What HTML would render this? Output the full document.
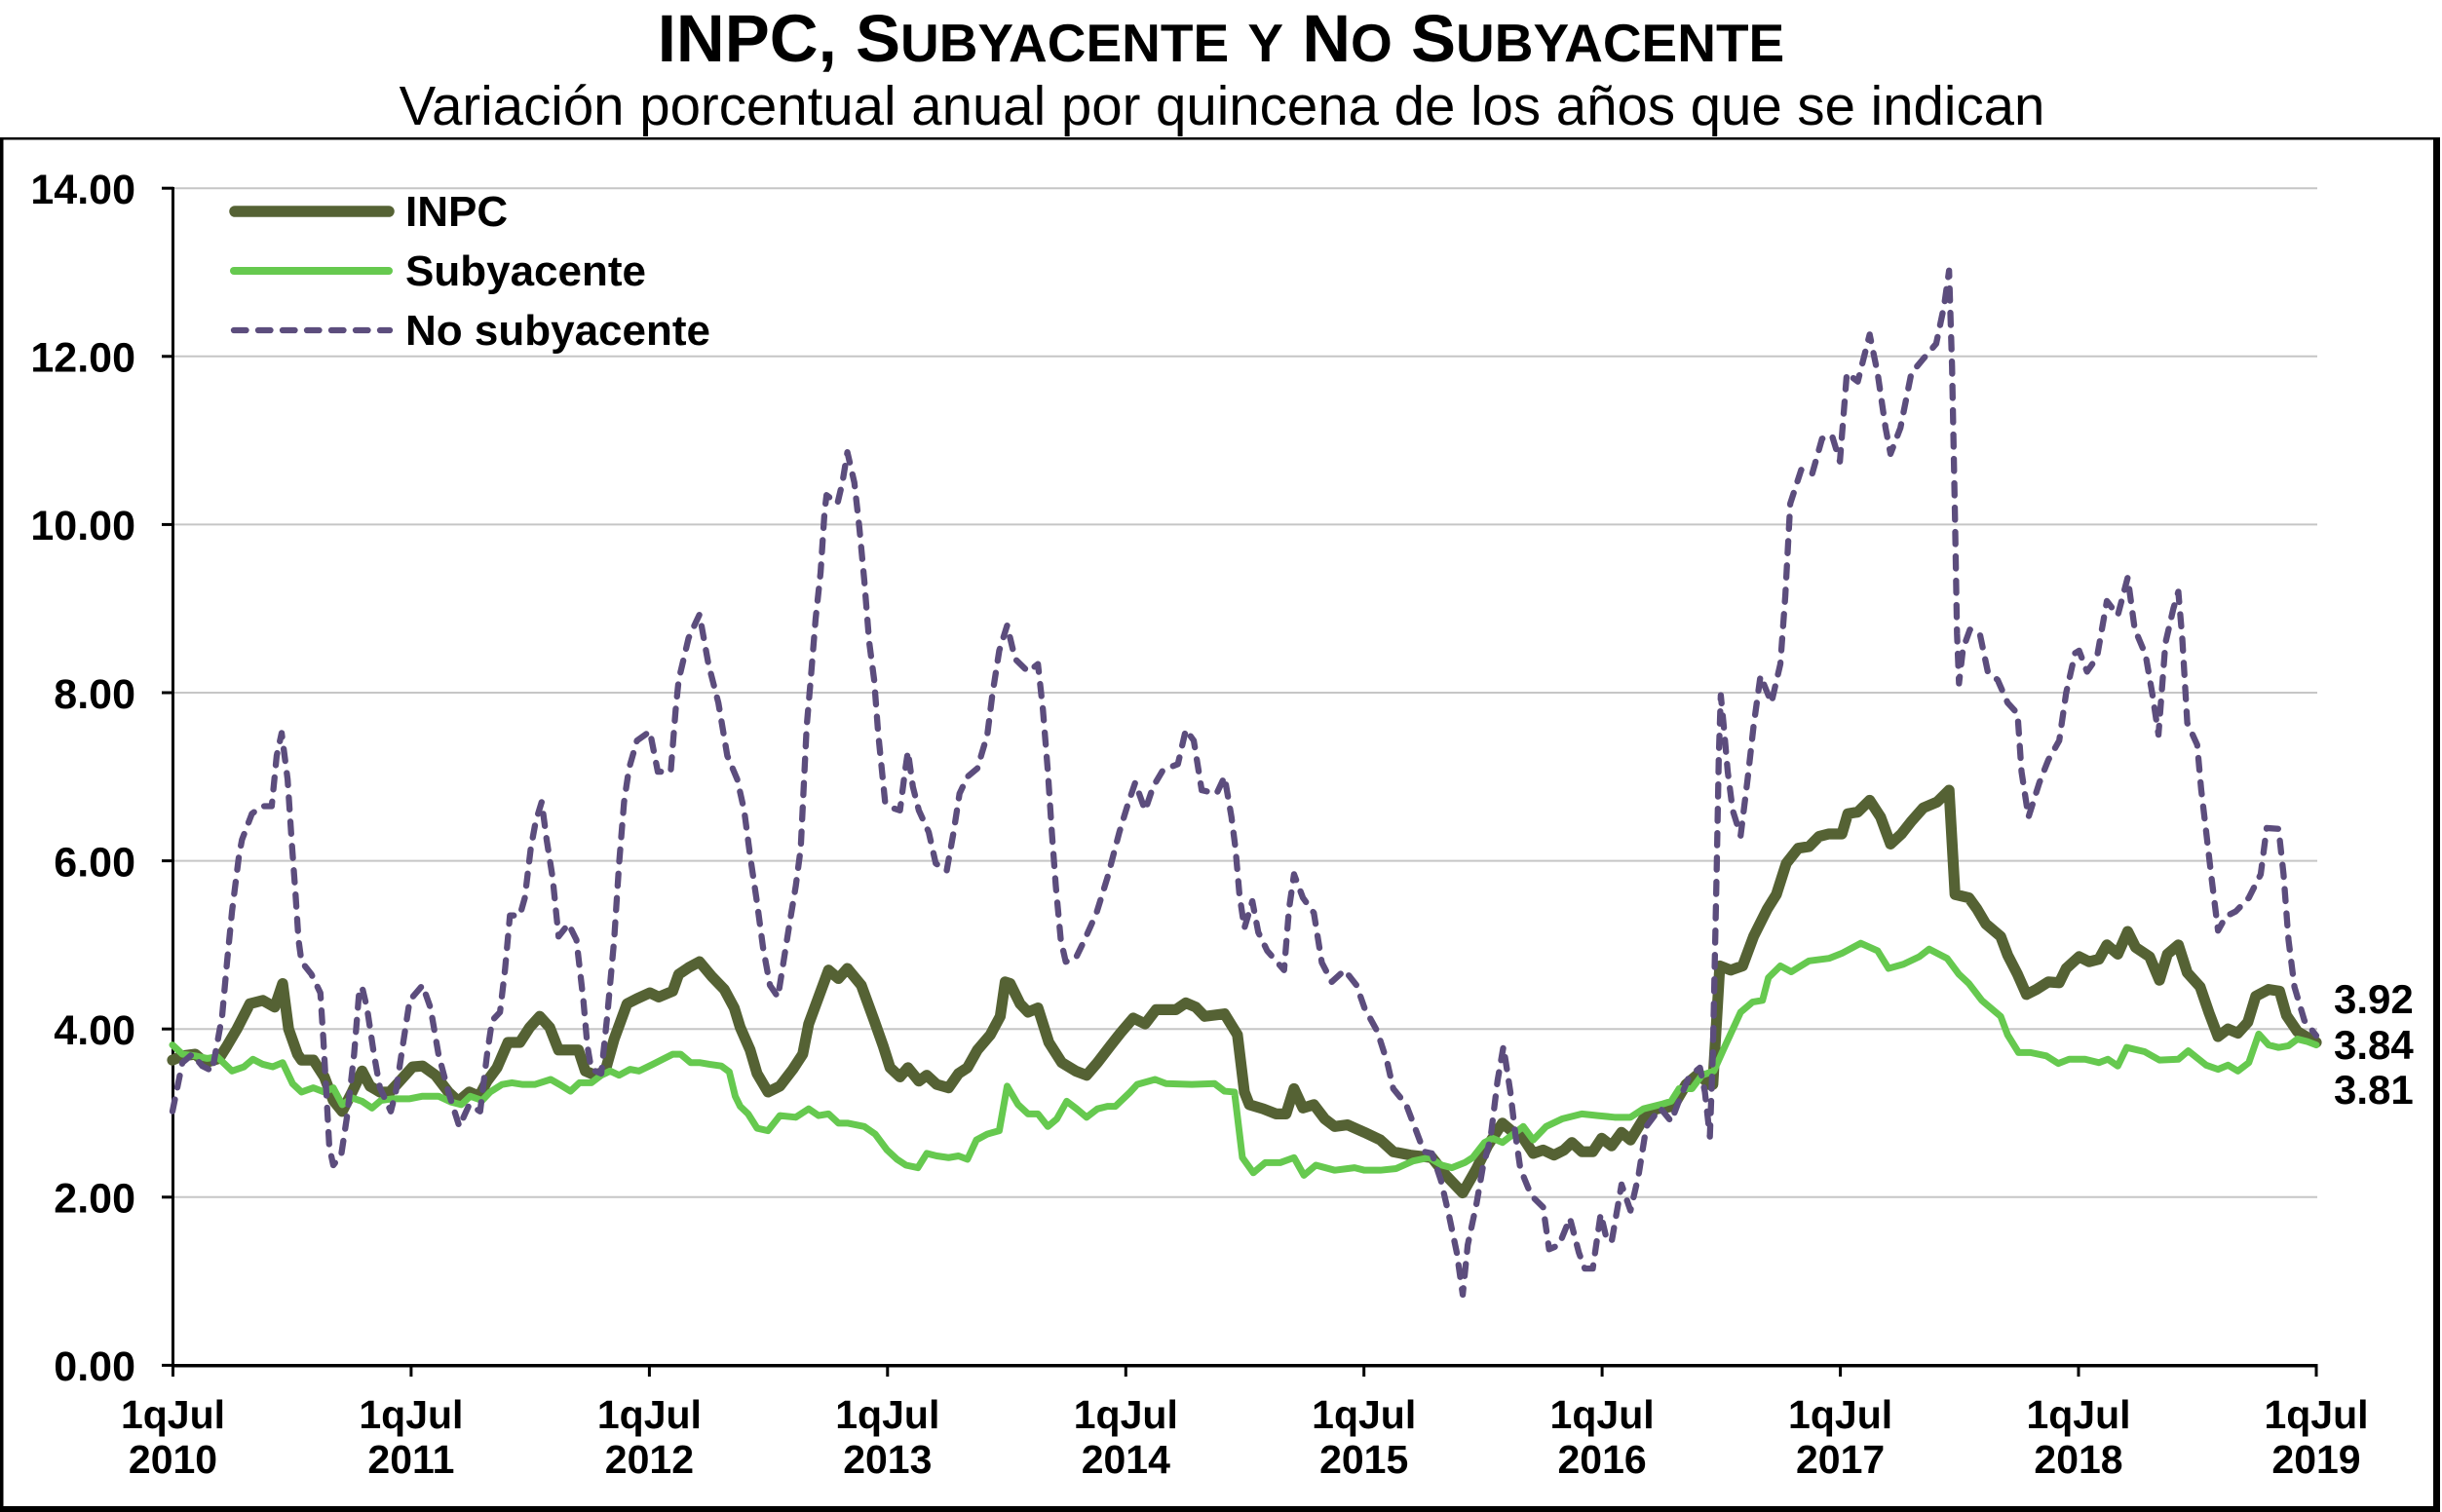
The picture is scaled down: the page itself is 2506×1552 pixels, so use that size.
<!DOCTYPE html>
<html><head><meta charset="utf-8">
<style>
html,body{margin:0;padding:0;background:#fff;}
body{width:2506px;height:1552px;overflow:hidden;}
svg{display:block;}
text{font-family:"Liberation Sans",Arial,sans-serif;fill:#000;}
.b{font-weight:bold;}
</style></head>
<body>
<svg width="2506" height="1552" viewBox="0 0 2506 1552" xmlns="http://www.w3.org/2000/svg">
<rect x="0" y="0" width="2506" height="1552" fill="#fff"/>
<!-- Title -->
<text x="1253" y="63" text-anchor="middle" class="b" font-size="69">INPC, S<tspan font-size="55">UBYACENTE</tspan> <tspan font-size="55">Y</tspan> N<tspan font-size="55">O</tspan> S<tspan font-size="55">UBYACENTE</tspan></text>
<text x="1254" y="128" text-anchor="middle" font-size="56.4">Variación porcentual anual por quincena de los años que se indican</text>

<!-- Frame -->
<rect x="0" y="141" width="2504" height="2.5" fill="#000"/>
<rect x="0" y="141" width="3.5" height="1411" fill="#000"/>
<rect x="2497" y="141" width="7" height="1411" fill="#000"/>
<rect x="0" y="1546" width="2504" height="6" fill="#000"/>

<!-- Gridlines -->
<g stroke="#c6c6c6" stroke-width="2">
<line x1="177" y1="193.2" x2="2378" y2="193.2"/>
<line x1="177" y1="365.8" x2="2378" y2="365.8"/>
<line x1="177" y1="538.4" x2="2378" y2="538.4"/>
<line x1="177" y1="711.0" x2="2378" y2="711.0"/>
<line x1="177" y1="883.6" x2="2378" y2="883.6"/>
<line x1="177" y1="1056.2" x2="2378" y2="1056.2"/>
<line x1="177" y1="1228.8" x2="2378" y2="1228.8"/>
</g>

<!-- Y axis -->
<g stroke="#000" stroke-width="3">
<line x1="177.5" y1="192" x2="177.5" y2="1402"/>
<line x1="166" y1="193.2" x2="178" y2="193.2"/>
<line x1="166" y1="365.8" x2="178" y2="365.8"/>
<line x1="166" y1="538.4" x2="178" y2="538.4"/>
<line x1="166" y1="711.0" x2="178" y2="711.0"/>
<line x1="166" y1="883.6" x2="178" y2="883.6"/>
<line x1="166" y1="1056.2" x2="178" y2="1056.2"/>
<line x1="166" y1="1228.8" x2="178" y2="1228.8"/>
<line x1="166" y1="1401.4" x2="178" y2="1401.4"/>
</g>
<g class="b" font-size="43" text-anchor="end">
<text x="139" y="209">14.00</text>
<text x="139" y="381.6">12.00</text>
<text x="139" y="554.2">10.00</text>
<text x="139" y="726.8">8.00</text>
<text x="139" y="899.4">6.00</text>
<text x="139" y="1072">4.00</text>
<text x="139" y="1244.6">2.00</text>
<text x="139" y="1417.2">0.00</text>
</g>

<!-- X axis -->
<g stroke="#000" stroke-width="3">
<line x1="176" y1="1401.8" x2="2378.5" y2="1401.8" stroke-width="3.5"/>
<line x1="177.5" y1="1401" x2="177.5" y2="1413"/>
<line x1="421.9" y1="1401" x2="421.9" y2="1413"/>
<line x1="666.4" y1="1401" x2="666.4" y2="1413"/>
<line x1="910.8" y1="1401" x2="910.8" y2="1413"/>
<line x1="1155.3" y1="1401" x2="1155.3" y2="1413"/>
<line x1="1399.7" y1="1401" x2="1399.7" y2="1413"/>
<line x1="1644.1" y1="1401" x2="1644.1" y2="1413"/>
<line x1="1888.6" y1="1401" x2="1888.6" y2="1413"/>
<line x1="2133" y1="1401" x2="2133" y2="1413"/>
<line x1="2377" y1="1401" x2="2377" y2="1413"/>
</g>
<g class="b" font-size="41" text-anchor="middle">
<text x="177.5" y="1466">1qJul</text><text x="177.5" y="1512">2010</text>
<text x="421.9" y="1466">1qJul</text><text x="421.9" y="1512">2011</text>
<text x="666.4" y="1466">1qJul</text><text x="666.4" y="1512">2012</text>
<text x="910.8" y="1466">1qJul</text><text x="910.8" y="1512">2013</text>
<text x="1155.3" y="1466">1qJul</text><text x="1155.3" y="1512">2014</text>
<text x="1399.7" y="1466">1qJul</text><text x="1399.7" y="1512">2015</text>
<text x="1644.1" y="1466">1qJul</text><text x="1644.1" y="1512">2016</text>
<text x="1888.6" y="1466">1qJul</text><text x="1888.6" y="1512">2017</text>
<text x="2133" y="1466">1qJul</text><text x="2133" y="1512">2018</text>
<text x="2377" y="1466">1qJul</text><text x="2377" y="1512">2019</text>
</g>

<!-- Series -->
<g transform="translate(177,1401.4) scale(10.18519,-86.3)" fill="none" stroke-linejoin="round">
<polyline vector-effect="non-scaling-stroke" stroke="#556234" stroke-width="11.2" stroke-linecap="round" points="0,3.63 1,3.68 2.3,3.7 3.3,3.6 4.7,3.65 5.5,3.8 6.5,4.0 7.8,4.3 9.1,4.34 10.3,4.26 11.1,4.54 11.7,4.0 12.6,3.7 13,3.63 14.2,3.63 15.3,3.43 16.2,3.15 17.1,3.02 18.1,3.25 19.1,3.5 19.9,3.32 20.9,3.25 21.9,3.25 22.9,3.38 24.2,3.55 25.2,3.56 26.5,3.45 27.8,3.25 28.8,3.14 29.9,3.25 30.9,3.2 31.7,3.38 32.7,3.54 33.8,3.84 35,3.84 36,4.02 37,4.15 38,4.02 38.9,3.75 40.9,3.75 41.6,3.5 42.6,3.45 43.6,3.5 44.5,3.88 45.8,4.3 46.8,4.36 48.1,4.43 49,4.38 50.4,4.45 51,4.65 52,4.73 53.1,4.8 54.3,4.63 55.6,4.47 56.6,4.25 57.2,4.02 58.2,3.75 58.9,3.47 60,3.25 61.2,3.32 62.5,3.52 63.5,3.7 64.1,4.06 65.1,4.38 66.1,4.7 67.1,4.6 68,4.72 69.4,4.52 70.7,4.1 71.6,3.8 72.3,3.54 73.3,3.43 74.1,3.54 75.2,3.38 76,3.45 77,3.34 78.2,3.3 79.2,3.47 80.1,3.54 81.1,3.75 82.4,3.93 83.4,4.15 83.9,4.56 84.4,4.54 85.4,4.3 86.2,4.2 87.2,4.25 88.3,3.84 89.6,3.6 91,3.5 92.1,3.45 93.2,3.6 94.5,3.8 95.5,3.95 96.8,4.13 98,4.06 99.1,4.23 101.1,4.23 102.1,4.31 103.1,4.26 104,4.15 106,4.18 107.3,3.93 108,3.25 108.5,3.1 109.9,3.05 111.2,2.99 112.2,2.99 113,3.29 113.9,3.06 115,3.1 116.1,2.93 117.1,2.84 118.4,2.86 120.1,2.77 121.7,2.68 123,2.54 124.7,2.5 126.9,2.47 128.3,2.26 130,2.05 131.4,2.34 132.5,2.61 134,2.88 135.1,2.77 136.1,2.7 137.1,2.52 138.1,2.56 139.2,2.5 140.2,2.56 141,2.65 142,2.54 143.1,2.54 144,2.7 145,2.61 146,2.77 146.9,2.68 148.2,2.93 149.5,3.05 151.2,3.08 152.5,3.34 153.8,3.47 154.8,3.34 155.2,3.34 155.9,4.75 157,4.7 158.2,4.75 159.3,5.1 160.7,5.43 161.6,5.6 162.6,5.97 163.8,6.15 164.9,6.17 165.9,6.29 166.9,6.32 168.2,6.32 168.8,6.56 169.8,6.58 171,6.72 172.1,6.52 173.1,6.2 174.2,6.32 175.2,6.47 176.4,6.63 177.8,6.7 179,6.84 179.6,5.6 181,5.56 181.8,5.43 182.7,5.25 184.2,5.1 184.9,4.88 185.9,4.65 186.8,4.41 187.8,4.47 189,4.56 190.1,4.55 190.8,4.72 192.1,4.86 193.1,4.8 194.1,4.83 194.9,5.0 196,4.89 197,5.16 197.8,4.97 199.2,4.86 200.2,4.58 201,4.89 202.1,5.0 203,4.67 204.3,4.5 205.2,4.19 206.1,3.91 207.1,4.0 208.1,3.95 209.1,4.08 209.9,4.39 211.2,4.47 212.3,4.45 213,4.16 214.1,3.97 215.1,3.9 216,3.84"/>
<polyline vector-effect="non-scaling-stroke" stroke="#66c94f" stroke-width="7" stroke-linecap="round" points="0,3.81 1,3.7 2.3,3.68 3.5,3.65 4.5,3.67 6,3.5 7.2,3.55 8.1,3.64 9.1,3.58 10.1,3.55 11.1,3.6 12.1,3.35 13,3.25 14.2,3.3 15.3,3.25 16.2,3.3 17.1,3.1 18.1,3.18 19.1,3.14 20.1,3.06 21,3.15 22.2,3.17 23.9,3.17 25.2,3.2 26.8,3.2 28.1,3.13 29.1,3.1 30,3.2 31.2,3.15 32,3.25 33.2,3.34 34.2,3.36 35.3,3.34 36.5,3.34 38.1,3.4 39,3.34 40.1,3.26 41,3.36 42.2,3.36 43.2,3.45 44.1,3.5 45,3.45 46.1,3.52 47,3.5 48.4,3.58 49.4,3.64 50.4,3.7 51.2,3.7 52.2,3.6 53.1,3.6 54.1,3.58 55.3,3.56 56.1,3.49 56.7,3.2 57.2,3.08 58,2.99 58.9,2.82 60,2.79 61.2,2.97 62.8,2.95 64.1,3.05 65.1,2.97 66.1,2.99 67.1,2.88 68,2.88 69.7,2.84 70.8,2.75 72,2.56 73,2.45 73.9,2.38 75.1,2.35 76,2.52 77,2.49 78.2,2.47 79.2,2.49 80.1,2.45 81,2.68 82.1,2.75 83.3,2.79 84.1,3.32 85.2,3.1 86.2,2.99 87.2,2.99 88.2,2.84 89.1,2.93 90.1,3.14 91.1,3.05 92.1,2.95 93.2,3.05 94.2,3.08 95,3.08 96.5,3.25 97.2,3.34 99,3.4 100.1,3.35 102.7,3.34 105,3.35 106,3.26 107,3.25 107.8,2.47 108.9,2.29 110.1,2.41 111.6,2.41 113,2.47 114,2.26 115.2,2.38 117.1,2.32 119.1,2.35 120.1,2.32 121.7,2.32 123.3,2.34 125,2.43 126.6,2.47 127.9,2.38 128.9,2.35 130.2,2.41 131,2.47 132.2,2.65 133,2.7 134,2.65 135.1,2.75 136.1,2.84 137.1,2.68 138.4,2.84 140,2.93 142,2.99 143.6,2.97 145.3,2.95 146.9,2.95 148.2,3.05 150.2,3.11 151,3.14 151.8,3.29 153.1,3.29 154.1,3.45 155.3,3.5 156.4,3.79 158,4.2 159.2,4.32 160.2,4.34 160.8,4.61 162,4.75 163.1,4.68 164.9,4.81 166.9,4.84 168.2,4.9 170.1,5.02 171.8,4.93 172.9,4.72 174.4,4.77 176,4.86 177,4.95 178.8,4.84 180,4.65 181,4.54 182.3,4.34 184.2,4.15 184.9,3.93 186,3.72 187.2,3.72 188.8,3.68 190,3.59 191.1,3.64 192.7,3.64 194.1,3.6 195,3.64 196,3.56 196.9,3.78 198.7,3.73 200.2,3.63 202.1,3.64 203.1,3.74 204.9,3.57 206.1,3.52 207.1,3.57 208.1,3.5 209.2,3.6 210.2,3.94 211.2,3.81 212.2,3.78 213.2,3.8 214.1,3.88 215.1,3.85 216,3.81"/>
<polyline vector-effect="non-scaling-stroke" stroke="#5c4d7d" stroke-width="6.3" stroke-linecap="round" stroke-dasharray="12.5 12.5" points="0,3.02 1,3.6 2,3.7 3,3.56 4,3.5 5,4.15 5.5,4.8 6,5.4 6.7,6.06 7,6.25 8,6.56 9,6.65 10,6.65 10.5,7.25 11,7.52 11.6,6.97 12,6.25 12.4,5.6 12.7,5.06 13,4.8 14,4.65 14.9,4.43 15.2,3.88 15.5,3.25 15.8,2.6 16.2,2.38 17,2.5 17.6,2.97 18.3,3.7 18.8,4.43 19.1,4.5 19.6,4.25 20.3,3.7 20.9,3.3 22,3.02 22.5,3.25 23.2,3.8 23.9,4.34 25.2,4.52 26,4.25 26.8,3.7 27.8,3.25 28.9,2.84 29.9,3.1 31,3.02 31.7,3.7 32.2,4.1 33,4.2 33.5,4.7 34,5.35 35,5.35 35.5,5.56 36.1,6.15 36.6,6.47 37.2,6.7 37.7,6.25 38.3,5.8 38.9,5.1 39.9,5.25 40.7,5.06 41.4,4.34 41.8,3.8 42.2,3.52 43.2,3.47 43.8,4.15 44.5,5.06 45,5.97 45.5,6.7 46,7.1 46.8,7.43 48.1,7.54 48.9,7.06 50.2,7.06 50.7,7.8 51,8.15 52,8.65 53.1,8.93 54,8.34 55,7.88 55.9,7.25 56.9,6.97 57.6,6.6 58.2,6.06 58.9,5.5 59.5,4.97 60.2,4.52 61,4.38 61.5,4.75 62.1,5.2 62.8,5.7 63.3,6.15 63.6,6.88 63.9,7.6 64.3,8.15 64.8,8.88 65.3,9.43 65.7,10.15 65.9,10.35 67,10.25 67.5,10.5 68,10.86 68.7,10.5 69.2,9.97 69.7,9.34 70.2,8.6 70.7,8.15 71.1,7.52 71.8,6.7 72.5,6.63 73.3,6.6 73.8,7.06 74.1,7.3 74.6,6.88 75.2,6.6 76.2,6.34 76.9,5.97 78,5.88 78.7,6.34 79.3,6.8 80.1,7.0 81.1,7.1 82.1,7.5 82.6,7.97 83.3,8.5 84.1,8.8 84.9,8.4 86.2,8.25 87.2,8.34 87.7,7.8 88.2,7.06 88.6,6.34 89,5.7 89.5,5.06 90,4.8 91,4.84 91.9,5.06 93.1,5.38 94.2,5.8 95.4,6.34 96.2,6.65 97,6.93 98,6.6 98.8,6.88 99.8,7.08 101.3,7.15 102.1,7.56 102.9,7.43 103.7,6.84 105.2,6.8 106,7.0 106.7,6.52 107.1,6.15 107.5,5.6 108,5.2 108.8,5.52 109.4,5.15 110.3,4.93 112,4.7 112.5,5.43 113,5.84 113.9,5.56 115,5.38 115.8,4.79 116.8,4.56 118.1,4.7 119.3,4.52 120.1,4.25 121.4,3.97 122.4,3.6 123,3.29 124.3,3.1 125.3,2.79 126.1,2.54 126.9,2.52 127.8,2.2 128.6,1.79 129.4,1.34 130,0.84 130.5,1.43 131.4,1.93 132,2.34 132.8,2.7 133.5,3.38 134.1,3.79 134.8,3.25 135.3,2.75 135.8,2.34 136.9,2.02 138.1,1.88 138.7,1.38 139.7,1.43 140.8,1.75 141.7,1.34 142.3,1.15 143.1,1.15 143.9,1.8 144.5,1.5 145,1.47 146,2.15 146.9,1.84 147.7,2.25 148.5,2.84 149.9,3.06 151,2.9 151.8,3.15 152.8,3.43 153.9,3.54 154.4,3.25 154.9,2.72 155.2,3.7 155.6,5.97 155.8,7.25 156,7.97 156.3,7.6 156.7,7.06 157.2,6.6 158,6.3 158.7,6.97 159.3,7.6 160,8.2 161.1,7.88 162,8.34 162.5,9.15 163,10.25 164.1,10.65 165.2,10.6 166.2,11.02 167.2,11.06 168,10.75 168.7,11.8 169.8,11.7 171,12.26 171.8,11.8 172.6,11.15 173.1,10.84 174.1,11.15 175.2,11.8 176.4,11.97 177.7,12.15 178.5,12.6 179,13.02 179.3,11.88 179.6,10.06 179.8,8.7 180,8.11 180.4,8.52 181.1,8.75 182.1,8.7 182.9,8.25 183.9,8.15 184.9,7.88 185.9,7.75 186.3,7.06 187,6.52 188.1,6.93 189,7.2 190.1,7.43 190.8,8.0 191.7,8.47 192.1,8.5 192.9,8.25 193.9,8.42 194.9,9.09 196,8.92 197,9.37 197.7,8.76 198.8,8.45 199.5,7.97 200.1,7.5 200.8,8.59 201.6,9.0 202.1,9.2 202.5,8.64 203,7.64 204,7.38 204.4,6.85 204.9,6.35 205.4,5.84 206.1,5.17 206.9,5.34 207.9,5.4 209.2,5.56 210.4,5.84 211,6.39 212.2,6.38 212.7,5.84 213.2,5.06 213.8,4.5 214.8,4.1 216,3.92"/>
</g>

<!-- End labels -->
<g class="b" font-size="42">
<text x="2395" y="1040">3.92</text>
<text x="2395" y="1087">3.84</text>
<text x="2395" y="1133">3.81</text>
</g>

<!-- Legend -->
<line x1="241" y1="217" x2="399" y2="217" stroke="#556234" stroke-width="11.5" stroke-linecap="round"/>
<line x1="240" y1="278" x2="399" y2="278" stroke="#66c94f" stroke-width="8" stroke-linecap="round"/>
<line x1="240" y1="339" x2="400" y2="339" stroke="#5c4d7d" stroke-width="6.3" stroke-linecap="round" stroke-dasharray="12.5 12.5"/>
<g class="b" font-size="44">
<text x="416" y="232">INPC</text>
<text x="416" y="293">Subyacente</text>
<text x="416" y="354">No subyacente</text>
</g>
</svg>
</body></html>
